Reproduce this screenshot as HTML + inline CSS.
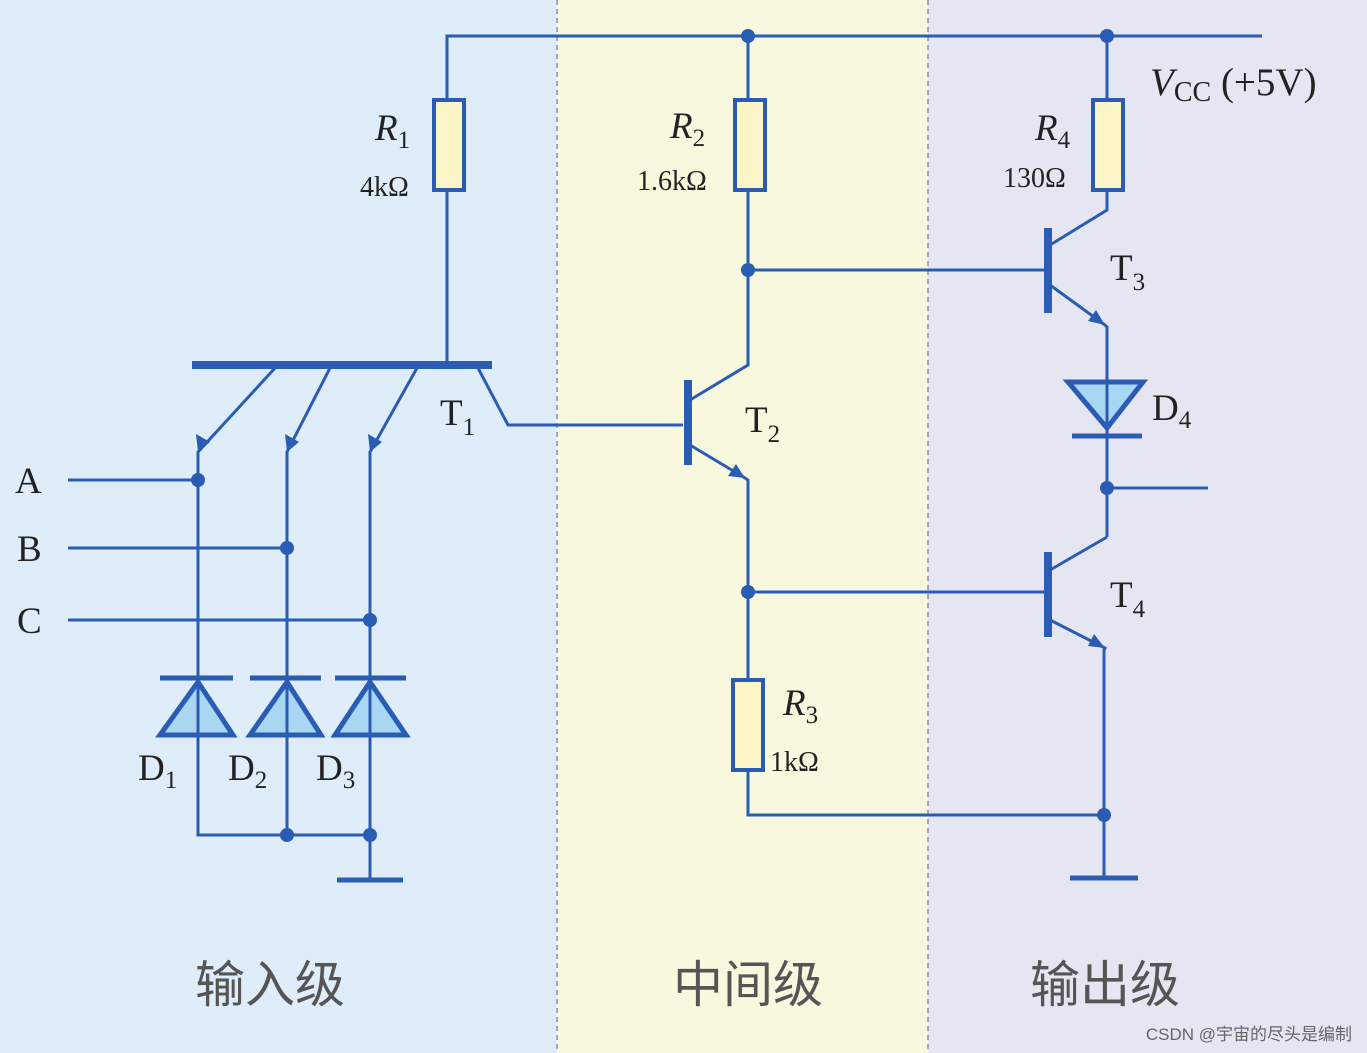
<!DOCTYPE html>
<html><head><meta charset="utf-8"><style>html,body{margin:0;padding:0;background:#fff}svg{display:block}</style></head>
<body>
<svg width="1367" height="1053" viewBox="0 0 1367 1053" xmlns="http://www.w3.org/2000/svg">
<rect x="0" y="0" width="557" height="1053" fill="#deedf9"/>
<rect x="557" y="0" width="371" height="1053" fill="#f8f8de"/>
<rect x="928" y="0" width="439" height="1053" fill="#e6e6f3"/>
<line x1="557" y1="0" x2="557" y2="1053" stroke="#8890a8" stroke-width="1.5" stroke-dasharray="5,4"/>
<line x1="928" y1="0" x2="928" y2="1053" stroke="#8890a8" stroke-width="1.5" stroke-dasharray="5,4"/>
<g stroke="#2a5cb4" stroke-width="3" fill="none">
<polyline points="447,100 447,36 1262,36"/>
<line x1="447" y1="190" x2="447" y2="363"/>
<line x1="192" y1="365" x2="492" y2="365" stroke-width="8"/>
<polyline points="275,368 198,452 198,835 370,835"/>
<polyline points="330,368 287,452 287,835"/>
<polyline points="417,368 370,452 370,880"/>
<polyline points="478,368 508,425 683,425"/>
<line x1="68" y1="480" x2="198" y2="480"/>
<line x1="68" y1="548" x2="287" y2="548"/>
<line x1="68" y1="620" x2="370" y2="620"/>
<line x1="337" y1="880" x2="403" y2="880" stroke-width="5"/>
<line x1="748" y1="36" x2="748" y2="100"/>
<polyline points="690,400 748,365 748,190"/>
<line x1="748" y1="270" x2="1045" y2="270"/>
<line x1="688" y1="380" x2="688" y2="465" stroke-width="8"/>
<polyline points="690,445 745,478 748,480 748,680"/>
<line x1="748" y1="592" x2="1045" y2="592"/>
<polyline points="748,770 748,815 1104,815"/>
<line x1="1107" y1="36" x2="1107" y2="100"/>
<polyline points="1050,245 1107,210 1107,190"/>
<line x1="1048" y1="228" x2="1048" y2="313" stroke-width="8"/>
<polyline points="1050,285 1105,325 1107,327 1107,380"/>
<line x1="1107" y1="428" x2="1107" y2="537"/>
<line x1="1107" y1="488" x2="1208" y2="488"/>
<polyline points="1107,537 1050,570"/>
<line x1="1048" y1="552" x2="1048" y2="637" stroke-width="8"/>
<polyline points="1050,620 1105,648 1104,650 1104,878"/>
<line x1="1070" y1="878" x2="1138" y2="878" stroke-width="5"/>
</g>
<g fill="#fbf5c8" stroke="#2a5cb4" stroke-width="4">
<rect x="434" y="100" width="30" height="90"/>
<rect x="735" y="100" width="30" height="90"/>
<rect x="733" y="680" width="30" height="90"/>
<rect x="1093" y="100" width="30" height="90"/>
</g>
<g fill="#a9d6f2" stroke="#2a5cb4" stroke-width="5">
<polygon points="160,735 233,735 198,682"/>
<polygon points="250,735 321,735 287,682"/>
<polygon points="335,735 406,735 370,682"/>
<polygon points="1068,382 1143,382 1107,428"/>
</g>
<g stroke="#2a5cb4" stroke-width="5">
<line x1="160" y1="678" x2="233" y2="678"/>
<line x1="250" y1="678" x2="321" y2="678"/>
<line x1="335" y1="678" x2="406" y2="678"/>
<line x1="1072" y1="436" x2="1142" y2="436"/>
<line x1="198" y1="678" x2="198" y2="735" stroke-width="3"/>
<line x1="287" y1="678" x2="287" y2="735" stroke-width="3"/>
<line x1="370" y1="678" x2="370" y2="735" stroke-width="3"/>
<line x1="1107" y1="382" x2="1107" y2="436" stroke-width="3"/>
</g>
<g fill="#2a5cb4">
<circle cx="748" cy="36" r="7"/><circle cx="1107" cy="36" r="7"/>
<circle cx="198" cy="480" r="7"/><circle cx="287" cy="548" r="7"/><circle cx="370" cy="620" r="7"/>
<circle cx="287" cy="835" r="7"/><circle cx="370" cy="835" r="7"/>
<circle cx="748" cy="270" r="7"/><circle cx="748" cy="592" r="7"/>
<circle cx="1107" cy="488" r="7"/><circle cx="1104" cy="815" r="7"/>
<polygon points="198,452 196,434 210,442"/>
<polygon points="287,452 285,434 299,442"/>
<polygon points="370,452 368,434 382,442"/>
<polygon points="745,478 728,476 736,464"/>
<polygon points="1105,325 1088,321 1096,310"/>
<polygon points="1105,648 1088,646 1094,634"/>
</g>
<g font-family="Liberation Serif, serif" fill="#222" font-size="37">
<text x="15" y="493">A</text><text x="17" y="561">B</text><text x="17" y="633">C</text>
<text x="375" y="140" font-style="italic">R<tspan font-size="25" dy="8" font-style="normal">1</tspan></text>
<text x="360" y="196" font-size="28">4kΩ</text>
<text x="670" y="138" font-style="italic">R<tspan font-size="25" dy="8" font-style="normal">2</tspan></text>
<text x="637" y="190" font-size="28">1.6kΩ</text>
<text x="1035" y="140" font-style="italic">R<tspan font-size="25" dy="8" font-style="normal">4</tspan></text>
<text x="1003" y="187" font-size="28">130Ω</text>
<text x="783" y="715" font-style="italic">R<tspan font-size="25" dy="8" font-style="normal">3</tspan></text>
<text x="770" y="771" font-size="28">1kΩ</text>
<text x="1150" y="95" font-size="39" font-style="italic">V<tspan font-size="28" dy="6" font-style="normal">CC</tspan><tspan dy="-6" font-style="normal"> (+5V)</tspan></text>
<text x="440" y="425">T<tspan font-size="25" dy="10">1</tspan></text>
<text x="745" y="432">T<tspan font-size="25" dy="10">2</tspan></text>
<text x="1110" y="280">T<tspan font-size="25" dy="10">3</tspan></text>
<text x="1110" y="607">T<tspan font-size="25" dy="10">4</tspan></text>
<text x="1152" y="420">D<tspan font-size="25" dy="8">4</tspan></text>
<text x="138" y="780">D<tspan font-size="25" dy="8">1</tspan></text>
<text x="228" y="780">D<tspan font-size="25" dy="8">2</tspan></text>
<text x="316" y="780">D<tspan font-size="25" dy="8">3</tspan></text>
</g>
<g font-family="Liberation Sans, Noto Sans CJK SC, sans-serif" fill="#555" font-size="50" text-anchor="middle">
<text x="270" y="1002">输入级</text>
<text x="748" y="1002">中间级</text>
<text x="1105" y="1002">输出级</text>
</g>
<text x="1352" y="1040" text-anchor="end" font-family="Liberation Sans, Noto Sans CJK SC, sans-serif" font-size="17" fill="#666">CSDN @宇宙的尽头是编制</text>
</svg>
</body></html>
